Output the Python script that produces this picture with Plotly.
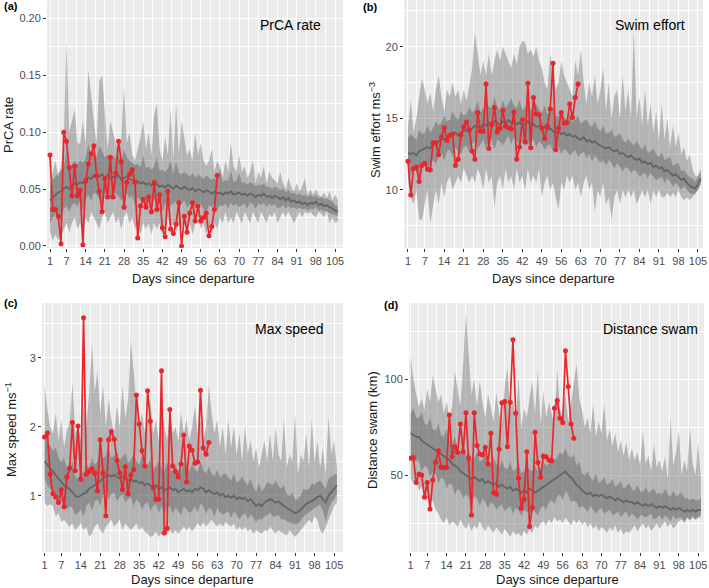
import plotly.graph_objects as go

days = list(range(1, 107))
xticks = [1, 7, 14, 21, 28, 35, 42, 49, 56, 63, 70, 77, 84, 91, 98, 105]

# ---------------- Panel (a) PrCA rate ----------------
a_red = [0.080,0.032,0.032,0.026,0.002,0.100,0.092,0.069,0.044,0.070,
         0.044,0.049,0.001,0.057,0.072,0.081,0.088,0.062,0.048,0.030,
         0.059,0.043,0.078,0.043,0.064,0.092,0.074,0.034,0.056,0.063,
         0.067,0.056,0.007,0.035,0.041,0.034,0.043,0.030,0.056,0.032,
         0.045,0.016,0.008,0.048,0.015,0.011,0.019,0.038,0.000,0.026,
         0.012,0.029,0.038,0.022,0.035,0.022,0.025,0.029,0.009,0.017,
         0.032,0.062]
a_med = [0.040,0.042,0.045,0.047,0.048,0.050,0.052,0.050,0.053,0.055,
         0.054,0.056,0.055,0.058,0.060,0.059,0.062,0.060,0.061,0.063,
         0.060,0.062,0.059,0.061,0.060,0.062,0.058,0.060,0.061,0.059,
         0.058,0.056,0.057,0.055,0.056,0.054,0.055,0.053,0.055,0.054,
         0.052,0.053,0.051,0.054,0.052,0.050,0.053,0.051,0.050,0.052,
         0.050,0.049,0.051,0.048,0.050,0.049,0.047,0.049,0.048,0.046,
         0.048,0.046,0.047,0.045,0.047,0.046,0.048,0.045,0.046,0.047,
         0.045,0.046,0.044,0.046,0.045,0.043,0.045,0.044,0.046,0.043,
         0.044,0.042,0.044,0.043,0.041,0.043,0.040,0.042,0.039,0.040,
         0.038,0.039,0.037,0.038,0.036,0.038,0.037,0.039,0.036,0.037,
         0.035,0.036,0.034,0.033,0.031,0.030]
a_in_lo = [0.020,0.025,0.028,0.026,0.022,0.033,0.035,0.030,0.036,0.038,
           0.034,0.040,0.030,0.042,0.045,0.040,0.047,0.045,0.042,0.038,
           0.045,0.048,0.040,0.047,0.046,0.044,0.040,0.046,0.047,0.042,
           0.044,0.035,0.043,0.040,0.042,0.036,0.041,0.038,0.041,0.036,
           0.038,0.030,0.037,0.041,0.035,0.037,0.040,0.030,0.037,0.040,
           0.034,0.037,0.039,0.033,0.038,0.037,0.032,0.028,0.036,0.034,
           0.037,0.032,0.036,0.035,0.037,0.033,0.038,0.035,0.037,0.034,
           0.036,0.037,0.033,0.038,0.037,0.033,0.037,0.036,0.038,0.034,
           0.037,0.035,0.037,0.033,0.034,0.036,0.033,0.035,0.033,0.034,
           0.032,0.034,0.032,0.033,0.031,0.033,0.032,0.034,0.031,0.032,
           0.030,0.031,0.029,0.028,0.027,0.026]
a_in_hi = [0.055,0.058,0.062,0.064,0.066,0.068,0.085,0.068,0.072,0.075,
           0.072,0.075,0.073,0.077,0.090,0.077,0.082,0.078,0.088,0.083,
           0.078,0.080,0.076,0.079,0.077,0.080,0.074,0.085,0.078,0.075,
           0.073,0.071,0.072,0.069,0.080,0.068,0.070,0.067,0.070,0.078,
           0.066,0.067,0.065,0.068,0.075,0.063,0.074,0.064,0.063,0.065,
           0.063,0.061,0.064,0.060,0.063,0.061,0.059,0.062,0.060,0.058,
           0.060,0.057,0.068,0.056,0.058,0.057,0.066,0.056,0.057,0.064,
           0.055,0.056,0.054,0.056,0.055,0.052,0.054,0.053,0.055,0.052,
           0.052,0.050,0.052,0.051,0.049,0.051,0.047,0.050,0.046,0.047,
           0.045,0.046,0.044,0.045,0.043,0.045,0.043,0.045,0.042,0.043,
           0.041,0.042,0.040,0.039,0.036,0.035]
a_out_lo = [0.012,0.005,0.010,0.005,0.008,0.015,0.020,0.012,0.020,0.025,
            0.015,0.020,0.010,0.025,0.020,0.030,0.025,0.020,0.015,0.025,
            0.030,0.020,0.025,0.030,0.020,0.025,0.015,0.025,0.030,0.020,
            0.025,0.015,0.020,0.010,0.020,0.015,0.020,0.010,0.020,0.015,
            0.020,0.008,0.020,0.025,0.015,0.020,0.012,0.020,0.015,0.025,
            0.015,0.020,0.010,0.020,0.025,0.015,0.020,0.010,0.020,0.010,
            0.020,0.015,0.025,0.020,0.030,0.020,0.025,0.020,0.030,0.025,
            0.020,0.030,0.025,0.020,0.030,0.025,0.020,0.030,0.025,0.020,
            0.028,0.025,0.030,0.020,0.025,0.030,0.025,0.030,0.025,0.020,
            0.025,0.030,0.025,0.030,0.028,0.030,0.027,0.025,0.030,0.028,
            0.025,0.030,0.020,0.025,0.020,0.022]
a_out_hi = [0.050,0.065,0.075,0.060,0.070,0.090,0.180,0.100,0.110,0.120,
            0.090,0.090,0.110,0.090,0.155,0.130,0.110,0.090,0.145,0.150,
            0.120,0.085,0.110,0.100,0.090,0.085,0.095,0.140,0.090,0.100,
            0.080,0.075,0.085,0.095,0.110,0.085,0.100,0.080,0.115,0.125,
            0.085,0.075,0.095,0.080,0.120,0.075,0.125,0.080,0.110,0.095,
            0.080,0.085,0.075,0.100,0.080,0.090,0.075,0.070,0.075,0.085,
            0.065,0.075,0.070,0.060,0.075,0.065,0.090,0.070,0.065,0.080,
            0.065,0.070,0.060,0.065,0.075,0.055,0.065,0.060,0.070,0.055,
            0.065,0.060,0.058,0.055,0.065,0.055,0.050,0.060,0.052,0.048,
            0.055,0.048,0.052,0.060,0.045,0.050,0.045,0.050,0.045,0.043,
            0.047,0.042,0.048,0.040,0.045,0.040]

# ---------------- Panel (b) Swim effort ----------------
b_red = [12.0,9.65,11.5,11.6,10.6,11.7,11.85,11.45,11.4,13.3,
         13.3,12.45,13.7,14.35,13.45,13.8,13.9,11.7,12.15,13.85,
         14.4,14.75,14.2,12.7,12.15,15.4,14.1,14.1,17.4,12.9,
         14.55,15.75,14.05,14.3,15.55,14.45,14.35,14.25,15.45,12.15,
         13.0,14.9,13.35,17.45,12.95,16.45,15.3,15.25,14.3,13.6,
         14.45,15.65,18.85,12.8,14.3,15.4,14.65,14.7,16.0,15.05,
         16.45,17.4]
b_med = [12.6,12.5,12.6,12.4,12.7,12.8,12.9,13.0,12.9,13.2,
         13.3,13.4,13.6,13.5,13.7,13.8,13.9,14.0,13.8,14.0,
         14.1,14.2,14.0,14.3,14.5,14.4,14.3,14.6,14.5,14.7,
         14.6,14.8,14.7,14.5,14.8,14.6,14.9,14.7,14.8,14.6,
         14.7,14.5,14.6,14.8,14.5,14.6,14.4,14.5,14.3,14.4,
         14.2,14.3,14.1,14.0,14.1,13.9,14.0,13.8,13.9,13.7,
         13.8,13.6,13.5,13.7,13.4,13.5,13.3,13.4,13.2,13.1,
         13.0,12.9,13.0,12.8,12.7,12.8,12.5,12.6,12.4,12.3,
         12.4,12.2,12.1,12.2,11.9,12.0,11.8,11.9,11.6,11.7,
         11.5,11.6,11.3,11.4,11.2,11.0,11.1,10.9,10.7,10.8,
         10.5,10.3,10.2,10.1,10.4,10.8]
b_in_lo = [11.5,11.0,11.6,11.3,10.9,11.7,11.9,11.5,11.8,12.1,
           11.8,12.3,12.6,12.0,12.7,12.8,12.3,13.0,12.7,12.5,
           13.0,13.1,12.6,13.2,13.4,12.9,13.2,13.5,12.9,13.6,
           13.5,12.8,13.5,13.4,13.1,13.5,13.8,13.2,13.7,13.5,
           13.1,13.4,13.5,13.1,13.4,13.5,13.0,13.4,13.2,12.8,
           13.1,13.2,12.7,12.9,13.0,12.5,12.9,12.7,12.4,12.6,
           12.8,12.3,12.5,12.7,12.2,12.5,12.0,12.4,12.2,11.9,
           12.1,11.7,12.1,11.9,11.5,11.9,11.6,11.3,11.6,11.5,
           11.2,11.4,11.3,10.9,11.1,11.2,10.8,11.2,10.9,10.7,
           10.8,10.9,10.5,10.8,10.6,10.2,10.5,10.3,10.0,10.3,
           10.0,9.8,9.7,9.7,10.0,10.4]
b_in_hi = [13.6,13.9,13.7,13.5,14.2,13.9,14.0,14.5,14.0,14.3,
           14.8,14.5,14.7,15.2,14.8,14.9,15.5,15.1,14.9,15.5,
           15.2,15.3,15.8,15.4,15.6,16.2,15.4,15.7,16.3,15.8,
           15.7,16.5,15.8,15.6,16.3,15.7,16.0,16.4,15.9,15.7,
           16.3,15.6,15.7,16.4,15.6,15.7,16.0,15.6,15.4,15.9,
           15.3,15.4,15.8,15.1,15.2,15.5,15.1,14.9,15.4,14.8,
           14.9,15.2,14.6,14.8,14.9,14.6,14.4,14.8,14.3,14.1,
           14.5,13.9,14.0,14.2,13.7,13.8,14.0,13.5,13.3,13.6,
           13.3,13.1,13.4,13.1,12.8,13.2,12.6,12.7,12.9,12.5,
           12.3,12.6,12.1,12.2,12.3,11.7,11.8,11.9,11.3,11.4,
           11.1,10.9,10.8,10.6,10.9,11.3]
b_out_lo = [10.5,9.5,9.0,10.0,8.0,7.9,9.0,10.0,7.7,9.0,
            10.0,9.0,10.5,9.5,10.5,11.0,10.0,10.5,11.0,10.5,
            11.5,11.0,10.5,11.0,10.5,11.5,11.0,10.0,11.5,10.5,
            11.0,8.8,10.5,11.0,10.0,11.5,10.5,11.0,10.0,11.5,
            10.5,11.0,10.0,11.5,10.5,11.0,10.5,11.5,9.5,10.5,
            11.0,10.0,10.5,9.5,8.6,10.5,10.0,11.0,10.5,11.0,
            10.0,10.5,9.5,10.5,11.0,10.0,10.5,8.5,10.0,9.5,
            10.5,9.0,9.5,7.9,9.5,10.0,9.0,10.0,9.5,10.0,
            9.5,10.0,9.0,9.5,10.0,9.5,10.0,9.0,10.0,9.5,
            10.0,9.5,9.5,9.8,9.5,9.8,9.5,10.0,9.5,9.3,
            9.5,9.3,9.5,9.8,10.0,10.5]
b_out_hi = [14.5,16.3,14.0,15.0,16.5,17.8,17.0,16.0,16.8,15.5,
            17.0,18.0,16.5,15.5,17.0,16.5,17.5,16.5,17.0,16.0,
            17.0,16.2,17.3,18.5,21.0,19.5,18.0,19.0,18.0,19.5,
            18.0,19.0,19.8,19.0,20.0,19.5,19.0,18.5,19.5,18.8,
            20.0,20.4,20.3,19.5,19.8,19.3,20.0,19.0,18.5,17.5,
            17.0,19.5,18.5,17.0,17.5,19.0,18.0,17.5,17.0,16.5,
            19.0,18.0,19.8,17.5,16.0,17.5,16.5,18.0,16.0,17.0,
            18.5,15.5,17.5,15.0,16.5,17.0,15.0,18.0,15.5,17.0,
            15.0,21.2,15.0,16.5,14.5,17.0,14.5,16.0,14.0,15.5,
            13.5,16.0,13.5,15.0,13.0,14.5,13.0,14.0,12.5,13.0,
            12.0,12.5,11.5,11.0,11.0,11.5]

# ---------------- Panel (c) Max speed ----------------
c_red = [1.85,1.91,1.31,1.03,0.98,0.90,1.09,0.84,1.27,1.40,
         2.06,1.36,2.01,1.24,3.58,1.31,1.35,1.39,1.33,1.07,
         1.81,1.33,0.71,1.81,1.93,1.82,1.51,1.33,1.09,1.42,
         1.03,1.30,1.38,2.46,2.04,1.65,1.43,2.52,2.08,1.12,
         0.95,0.95,2.81,0.46,0.53,2.25,1.43,1.35,1.27,1.46,
         1.88,1.20,1.72,1.66,1.47,1.49,2.53,1.69,1.60,1.77]
c_med = [1.50,1.45,1.40,1.35,1.30,1.25,1.20,1.15,1.12,1.10,
         1.05,1.00,0.98,1.00,1.02,1.05,1.10,1.12,1.15,1.18,
         1.22,1.25,1.28,1.30,1.28,1.30,1.27,1.25,1.28,1.25,
         1.22,1.25,1.20,1.22,1.18,1.20,1.15,1.18,1.15,1.12,
         1.15,1.10,1.12,1.08,1.10,1.12,1.08,1.10,1.05,1.08,
         1.10,1.06,1.08,1.05,1.10,1.08,1.12,1.10,1.05,1.08,
         1.05,1.02,1.05,1.00,1.03,0.98,1.00,0.97,1.00,0.95,
         0.98,0.95,0.97,0.92,0.95,0.90,0.85,0.88,0.85,0.90,
         0.92,0.95,0.93,0.90,0.92,0.88,0.85,0.82,0.80,0.78,
         0.75,0.76,0.80,0.85,0.88,0.90,0.92,0.95,0.98,1.00,
         0.95,0.90,1.00,1.05,1.10,1.15]
c_in_lo = [1.25,1.15,1.10,1.05,0.95,0.98,0.90,0.90,0.80,0.85,
           0.82,0.72,0.75,0.80,0.70,0.85,0.90,0.78,0.92,0.95,
           0.85,1.02,1.05,0.95,1.02,1.05,0.92,0.98,1.02,0.90,
           0.95,0.98,0.85,0.95,0.90,0.80,0.88,0.90,0.78,0.85,
           0.88,0.75,0.85,0.72,0.82,0.85,0.74,0.83,0.78,0.72,
           0.85,0.80,0.75,0.78,0.85,0.76,0.88,0.85,0.74,0.82,
           0.80,0.70,0.82,0.76,0.72,0.75,0.78,0.68,0.78,0.72,
           0.66,0.72,0.75,0.66,0.73,0.68,0.62,0.67,0.65,0.70,
           0.72,0.76,0.70,0.70,0.73,0.66,0.66,0.63,0.62,0.60,
           0.58,0.60,0.64,0.70,0.73,0.76,0.78,0.82,0.85,0.88,
           0.78,0.62,0.80,0.90,0.95,1.02]
c_in_hi = [1.85,1.78,1.72,1.65,1.70,1.55,1.48,1.55,1.40,1.38,
           1.50,1.28,1.25,1.38,1.32,1.45,1.40,1.55,1.45,1.50,
           1.62,1.55,1.58,1.70,1.55,1.58,1.65,1.52,1.56,1.62,
           1.48,1.52,1.60,1.50,1.45,1.57,1.42,1.45,1.52,1.38,
           1.42,1.50,1.40,1.35,1.48,1.40,1.35,1.45,1.32,1.35,
           1.48,1.33,1.36,1.45,1.38,1.35,1.50,1.37,1.32,1.42,
           1.32,1.28,1.38,1.26,1.30,1.33,1.26,1.22,1.32,1.19,
           1.22,1.28,1.20,1.15,1.25,1.12,1.06,1.18,1.06,1.12,
           1.20,1.18,1.15,1.22,1.14,1.10,1.15,1.02,1.00,1.05,
           0.94,0.95,1.00,1.10,1.08,1.10,1.18,1.16,1.20,1.22,
           1.15,1.10,1.25,1.28,1.30,1.32]
c_out_lo = [0.90,0.85,0.88,0.85,0.70,0.75,0.62,0.65,0.60,0.55,
            0.60,0.50,0.55,0.60,0.50,0.55,0.40,0.45,0.55,0.60,
            0.50,0.45,0.55,0.60,0.65,0.55,0.60,0.65,0.50,0.60,
            0.55,0.50,0.55,0.60,0.50,0.55,0.48,0.45,0.40,0.42,
            0.48,0.40,0.45,0.42,0.45,0.50,0.45,0.50,0.45,0.50,
            0.55,0.50,0.55,0.48,0.55,0.60,0.55,0.62,0.55,0.60,
            0.65,0.60,0.55,0.60,0.55,0.62,0.58,0.55,0.60,0.50,
            0.55,0.50,0.55,0.48,0.52,0.45,0.50,0.48,0.45,0.50,
            0.48,0.55,0.50,0.45,0.50,0.48,0.45,0.42,0.50,0.45,
            0.40,0.45,0.50,0.55,0.60,0.65,0.60,0.70,0.65,0.50,
            0.45,0.55,0.65,0.75,0.85,0.90]
c_out_hi = [2.60,2.25,2.00,1.90,2.20,1.80,2.10,1.70,1.95,2.05,
            2.65,1.90,2.00,1.80,2.30,2.00,2.50,3.20,2.50,2.80,
            2.20,2.60,2.00,2.40,2.10,1.90,2.30,2.00,2.60,2.10,
            2.40,3.25,2.80,2.30,2.00,2.20,1.90,2.10,2.40,1.90,
            2.10,1.80,2.30,2.00,1.80,2.20,1.90,2.00,1.80,2.20,
            1.90,2.10,1.80,2.00,2.30,1.90,2.10,1.80,2.00,2.60,
            2.20,1.90,2.10,1.70,2.00,1.60,2.10,1.70,2.00,1.60,
            1.90,1.50,2.00,1.60,1.80,1.50,1.70,1.40,1.60,1.80,
            1.50,1.90,1.50,2.00,1.60,1.50,2.10,1.40,1.60,1.50,
            2.20,1.30,1.60,1.50,1.90,1.40,2.10,1.50,1.80,1.40,
            1.70,1.30,2.15,1.60,1.80,1.40]

# ---------------- Panel (d) Distance swam ----------------
d_red = [58.9,59.2,46.2,50.7,50.2,38.5,46.2,32.5,47.6,56.8,
         62.8,54.2,54.0,54.0,81.4,59.7,64.9,61.8,76.7,62.3,
         82.6,58.9,29.3,82.6,65.5,61.1,60.6,64.6,55.9,71.9,
         41.0,40.1,63.5,87.8,88.4,64.9,88.0,120.5,82.3,48.4,
         32.8,37.5,62.3,23.3,33.2,72.4,56.6,49.0,60.1,59.7,
         58.0,57.5,84.9,88.9,79.7,77.4,114.8,96.2,76.7,69.3]
d_med = [72,71,70,70,68,67,66,65,64,63,
         62,61,60,59,58,56,55,54,52,51,
         50,49,48,49,48,47,48,46,47,46,
         45,46,44,45,44,43,44,42,43,42,
         41,42,41,43,42,41,42,43,44,45,
         46,47,48,49,50,51,52,50,49,47,
         45,44,42,41,40,41,39,40,39,40,
         39,38,39,38,37,38,37,36,37,36,
         36,35,36,35,34,35,34,35,34,33,
         34,33,34,33,32,33,32,33,32,31,
         32,31,32,31,32,32]
d_in_lo = [60,56,58,57,52,55,54,49,52,51,
           46,49,48,43,46,45,40,43,42,38,
           40,39,35,39,38,34,38,36,33,36,
           35,32,34,35,31,33,34,30,33,32,
           29,32,31,30,32,31,29,33,34,32,
           36,37,35,39,40,37,42,40,36,37,
           36,33,34,33,31,34,32,30,32,33,
           30,31,32,29,30,31,28,30,31,28,
           30,29,27,29,29,28,29,30,27,28,
           29,27,29,28,26,29,27,28,28,26,
           28,27,28,27,28,28]
d_in_hi = [82,85,80,80,83,77,76,80,74,73,
           77,71,70,74,68,66,70,64,62,67,
           60,63,58,59,62,57,58,61,57,56,
           59,56,54,58,54,53,57,52,53,56,
           51,52,55,53,52,55,52,53,57,55,
           56,60,58,59,62,61,64,60,59,61,
           55,57,51,50,52,49,47,51,46,47,
           49,45,46,48,44,45,47,43,44,46,
           43,42,45,42,41,44,41,42,43,40,
           41,40,43,40,39,42,39,40,41,38,
           38,37,38,37,37,38]
d_out_lo = [48,46,47,42,44,40,38,36,37,32,
            30,27,25,28,24,26,25,23,27,24,
            22,25,21,24,22,26,23,21,24,22,
            20,23,21,19,22,20,18,21,19,20,
            18,21,19,22,20,24,22,25,26,24,
            27,25,28,26,27,25,28,26,24,27,
            25,27,24,26,23,25,22,24,21,23,
            22,20,23,21,24,20,22,19,21,20,
            22,24,21,23,25,22,24,21,23,25,
            22,24,26,23,25,22,24,26,27,25,
            28,26,29,27,28,30]
d_out_hi = [112,100,92,86,90,84,95,88,102,95,
            88,92,82,88,80,86,104,95,86,108,
            135,112,92,100,86,99,88,80,92,85,
            78,93,82,76,96,106,82,90,76,101,
            74,85,80,90,99,82,105,76,94,80,
            88,82,76,105,85,80,92,78,88,96,
            108,90,84,75,80,72,87,70,78,72,
            87,68,74,65,72,62,68,60,67,58,
            64,58,62,55,73,56,60,52,66,54,
            58,52,60,48,80,55,62,73,50,58,
            52,75,56,50,67,48]

panels = [
    dict(title="PrCA rate", ytitle="PrCA rate",
         red=a_red, med=a_med, ilo=a_in_lo, ihi=a_in_hi, olo=a_out_lo, ohi=a_out_hi,
         dom_x=(47, 343), dom_y=(0, 248), xr=(-0.1, 107.9), yr=(-0.0018, 0.2161),
         ytv=[0, 0.05, 0.10, 0.15, 0.20], ytt=["0.00", "0.05", "0.10", "0.15", "0.20"],
         ymin=[0.025, 0.075, 0.125, 0.175], lab="(a)", lab_xy=(2, 6), tl=(323, 25),
         yt_xy=(9, 125), xt_xy=(193, 278)),
    dict(title="Swim effort", ytitle="Swim effort ms<sup>−3</sup>",
         red=b_red, med=b_med, ilo=b_in_lo, ihi=b_in_hi, olo=b_out_lo, ohi=b_out_hi,
         dom_x=(404, 703), dom_y=(0, 248), xr=(-0.43, 106.8), yr=(5.95, 23.26),
         ytv=[10, 15, 20], ytt=["10", "15", "20"],
         ymin=[7.5, 12.5, 17.5, 22.5], lab="(b)", lab_xy=(361, 7), tl=(687, 25),
         yt_xy=(375, 130), xt_xy=(553, 278)),
    dict(title="Max speed", ytitle="Max speed ms<sup>−1</sup>",
         red=c_red, med=c_med, ilo=c_in_lo, ihi=c_in_hi, olo=c_out_lo, ohi=c_out_hi,
         dom_x=(42, 343), dom_y=(303, 552), xr=(0.07, 108.2), yr=(0.184, 3.793),
         ytv=[1, 2, 3], ytt=["1", "2", "3"],
         ymin=[0.5, 1.5, 2.5, 3.5], lab="(c)", lab_xy=(2, 303), tl=(325, 329),
         yt_xy=(11, 430), xt_xy=(192, 579)),
    dict(title="Distance swam", ytitle="Distance swam (km)",
         red=d_red, med=d_med, ilo=d_in_lo, ihi=d_in_hi, olo=d_out_lo, ohi=d_out_hi,
         dom_x=(409, 704), dom_y=(303, 552), xr=(0.4, 107.1), yr=(10.05, 139.7),
         ytv=[50, 100], ytt=["50", "100"],
         ymin=[25, 75, 125], lab="(d)", lab_xy=(382, 305), tl=(700, 329),
         yt_xy=(372, 430), xt_xy=(557, 579)),
]

W, H = 709, 588
fig = go.Figure()
annotations = []
layout_axes = {}
xminor = [4, 10.5, 17.5, 24.5, 31.5, 38.5, 45.5, 52.5, 59.5, 66.5, 73.5, 80.5, 87.5, 94.5, 101.5]

OUT_FILL = "rgba(105,105,105,0.42)"
IN_FILL = "rgba(80,80,80,0.38)"
MED_COL = "rgba(95,95,95,0.9)"
RED = "#E8262B"
TXT = "#1A1A1A"

for i, p in enumerate(panels):
    n = i + 1
    xa = "x" if n == 1 else f"x{n}"
    ya = "y" if n == 1 else f"y{n}"
    nd = len(p["med"])
    dd = days[:nd]
    rd = days[:len(p["red"])]
    common = dict(xaxis=xa, yaxis=ya, showlegend=False, hoverinfo="skip")
    fig.add_trace(go.Scatter(x=dd, y=p["olo"], mode="lines", line=dict(width=0, color=OUT_FILL), **common))
    fig.add_trace(go.Scatter(x=dd, y=p["ohi"], mode="lines", line=dict(width=0, color=OUT_FILL),
                             fill="tonexty", fillcolor=OUT_FILL, **common))
    fig.add_trace(go.Scatter(x=dd, y=p["ilo"], mode="lines", line=dict(width=0, color=IN_FILL), **common))
    fig.add_trace(go.Scatter(x=dd, y=p["ihi"], mode="lines", line=dict(width=0, color=IN_FILL),
                             fill="tonexty", fillcolor=IN_FILL, **common))
    fig.add_trace(go.Scatter(x=dd, y=p["med"], mode="lines", line=dict(width=1.8, color=MED_COL), **common))
    fig.add_trace(go.Scatter(x=rd, y=p["red"], mode="lines+markers",
                             line=dict(width=1.7, color=RED),
                             marker=dict(size=5, color=RED), **common))

    x0, x1 = p["dom_x"]
    y0, y1 = p["dom_y"]
    kx = "xaxis" if n == 1 else f"xaxis{n}"
    ky = "yaxis" if n == 1 else f"yaxis{n}"
    layout_axes[kx] = dict(
        domain=[x0 / W, x1 / W], anchor=ya, range=list(p["xr"]), automargin=False,
        tickmode="array", tickvals=xticks, ticktext=[str(t) for t in xticks],
        ticks="outside", ticklen=3, tickcolor="#333333", tickwidth=1,
        tickfont=dict(size=11, color="#4D4D4D"), ticklabeloverflow="allow",
        showgrid=True, gridcolor="white", gridwidth=1.1,
        minor=dict(tickvals=xminor, showgrid=True, gridcolor="white", gridwidth=0.5, ticks=""),
        zeroline=False, showline=False,
    )
    layout_axes[ky] = dict(
        domain=[1 - y1 / H, 1 - y0 / H], anchor=xa, range=list(p["yr"]), automargin=False,
        tickmode="array", tickvals=p["ytv"], ticktext=p["ytt"],
        ticks="outside", ticklen=3, tickcolor="#333333", tickwidth=1,
        tickfont=dict(size=11, color="#4D4D4D"), ticklabeloverflow="allow",
        showgrid=True, gridcolor="white", gridwidth=1.1,
        minor=dict(tickvals=p["ymin"], showgrid=True, gridcolor="white", gridwidth=0.5, ticks=""),
        zeroline=False, showline=False,
    )
    annotations.append(dict(text=p["title"], x=p["tl"][0] / W, y=1 - p["tl"][1] / H,
                            xref="paper", yref="paper", xanchor="right", yanchor="middle",
                            showarrow=False, font=dict(size=14, color="black")))
    annotations.append(dict(text="<b>" + p["lab"] + "</b>", x=p["lab_xy"][0] / W, y=1 - p["lab_xy"][1] / H,
                            xref="paper", yref="paper", xanchor="left", yanchor="middle",
                            showarrow=False, font=dict(size=11, color="black")))
    annotations.append(dict(text=p["ytitle"], x=p["yt_xy"][0] / W, y=1 - p["yt_xy"][1] / H,
                            xref="paper", yref="paper", xanchor="center", yanchor="middle",
                            textangle=-90, showarrow=False, font=dict(size=13, color=TXT)))
    annotations.append(dict(text="Days since departure", x=p["xt_xy"][0] / W, y=1 - p["xt_xy"][1] / H,
                            xref="paper", yref="paper", xanchor="center", yanchor="middle",
                            showarrow=False, font=dict(size=13, color=TXT)))

fig.update_layout(
    width=W, height=H, margin=dict(l=0, r=0, t=0, b=0),
    paper_bgcolor="white", plot_bgcolor="#EBEBEB",
    font=dict(family="Liberation Sans, Arial, sans-serif"),
    annotations=annotations, **layout_axes,
)
fig.write_html("out.html", config={"displayModeBar": False},
               post_script="document.body.style.margin='0px';document.body.style.overflow='hidden';")
